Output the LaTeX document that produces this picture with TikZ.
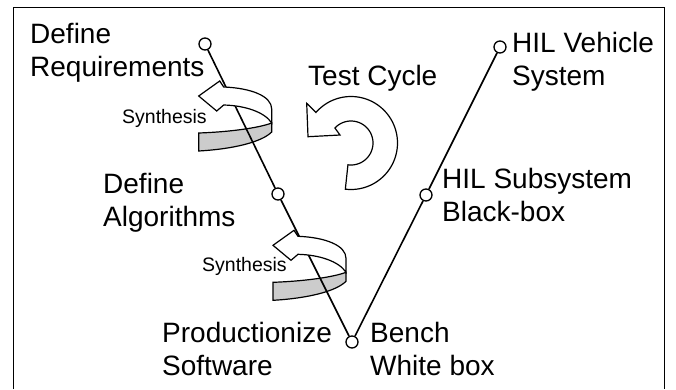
\documentclass[tikz,border=0pt]{standalone}
\usepackage{fontspec}
\setmainfont{Liberation Sans}
\tikzset{
  big/.style={font=\fontsize{28}{33}\selectfont, inner sep=0pt, align=left, anchor=base west},
  small/.style={font=\fontsize{19.5}{22}\selectfont, inner sep=0pt, anchor=base west},
  dot/.style={circle, draw, fill=white, line width=1.3pt, minimum size=12pt, inner sep=0pt},
  vline/.style={line width=1.6pt},
  arrowline/.style={draw=black, line width=1.2pt, line join=miter},
  ringback/.pic={\path[arrowline, fill=gray!40] (0,37) .. controls (30,36) and (60,32) .. (73,27) -- (73,36) .. controls (63,46) and (35,53) .. (0,55) -- cycle;},
  ringfront/.pic={\path[arrowline, fill=white] (0,0) -- (21,-15) -- (25,-9) .. controls (52,-8) and (73,0) .. (73,13) -- (73,27) .. controls (66,16) and (46,9.5) .. (25,9) -- (18,15) -- cycle;}
}
\begin{document}
\begin{tikzpicture}[x=1pt,y=-1pt]
\useasboundingbox (0,0) rectangle (676,389);
% frame
\draw[line width=1pt] (13,389) -- (13,7) -- (664,7) -- (664,389);
% back (gray) parts of synthesis rings
\pic at (198.7,96) {ringback};
\pic at (273,245.3) {ringback};
% V nodes
\node[dot] (c1) at (205,44) {};
\node[dot] (c2) at (278,194) {};
\node[dot] (c3) at (352,342) {};
\node[dot] (c4) at (426,195) {};
\node[dot] (c5) at (500,47) {};
\draw[vline] (c1) -- (c2) -- (c3) -- (c4) -- (c5);
% front (white) parts of synthesis rings
\pic at (198.7,96) {ringfront};
\pic at (273,245.3) {ringfront};
% test cycle arrow
\draw[arrowline, fill=white] ({351+46.5*cos(97)},{143+46.5*sin(97)})
  -- plot[domain=97:-139, samples=80] ({351+46.5*cos(\x)},{143+46.5*sin(\x)})
  -- (306.7,103.3) -- (308,136.7) -- (340,135)
  -- plot[domain=-137:98, samples=80] ({351+22*cos(\x)},{143+22*sin(\x)}) -- cycle;
% labels (base anchor = baseline of last line)
\node[big] (req) at (30,76) {Define\\Requirements};
\node[big] (tc) at (308,85) {Test Cycle};
\node[big] (alg) at (103,226) {Define\\Algorithms};
\node[big] (hilv) at (512,85) {HIL Vehicle\\System};
\node[big] (hils) at (442,221.5) {HIL Subsystem\\Black-box};
\node[big] (prod) at (162,375) {Productionize\\Software};
\node[big] (bench) at (370,375) {Bench\\White box};
\node[small] (syn1) at (122,123) {Synthesis};
\node[small] (syn2) at (202,271) {Synthesis};
\end{tikzpicture}
\end{document}
